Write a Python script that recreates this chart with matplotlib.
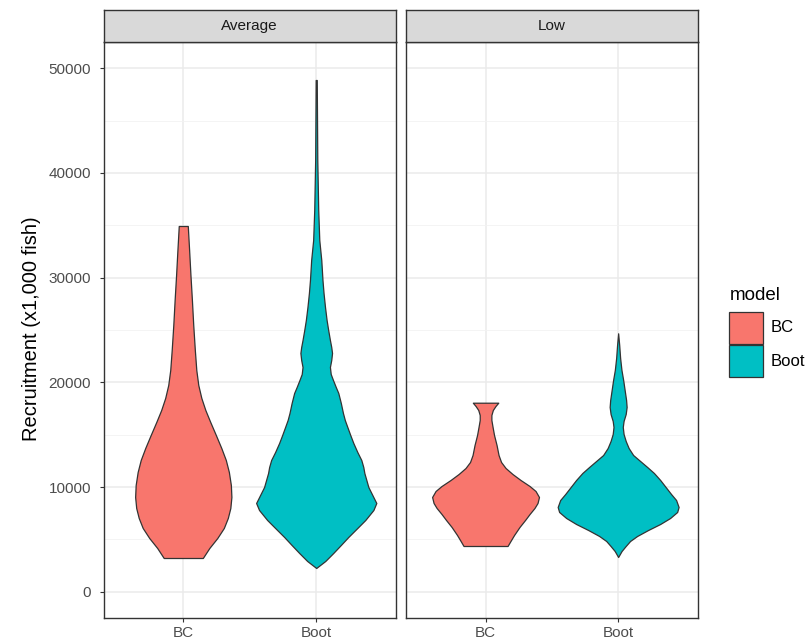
import matplotlib
matplotlib.use("Agg")
import matplotlib.pyplot as plt
from matplotlib.patches import Rectangle

plt.rcParams['font.family'] = ['Liberation Sans', 'DejaVu Sans']

# Facets, models and colours
facets = ["Average", "Low"]
models = ["BC", "Boot"]
model_colors = ["#F8766D", "#00BFC4"]
y_ticks = [0, 10000, 20000, 30000, 40000, 50000]

# Violin outlines: recruitment value (x1,000 fish) and density half-width
avg_bc_y = [3219, 4174, 5129, 6084, 7039, 7994, 9045, 10191, 11433, 12579,
            13725, 14966, 16208, 17354, 18500, 19742, 21175, 23085, 25473,
            27860, 30248, 32636, 34930]
avg_bc_w = [0.147, 0.196, 0.256, 0.305, 0.335, 0.354, 0.362, 0.358, 0.343, 0.320,
            0.286, 0.245, 0.203, 0.166, 0.136, 0.113, 0.098, 0.087, 0.075,
            0.065, 0.054, 0.044, 0.034]

avg_boot_y = [2264, 2932, 3696, 4460, 5224, 6084, 6848, 7803, 8472, 9236, 10000,
              10669, 11337, 11910, 12579, 13343, 14202, 14966, 15731, 16399,
              17068, 18023, 18978, 19551, 20219, 20793, 21461, 22130, 22798,
              23371, 24040, 24995, 25950, 27192, 28529, 29771, 31681, 33591,
              36456, 41232, 48873]
avg_boot_w = [0.0, 0.068, 0.128, 0.185, 0.241, 0.309, 0.369, 0.430, 0.452, 0.422,
              0.392, 0.377, 0.362, 0.354, 0.339, 0.309, 0.279, 0.256, 0.234,
              0.215, 0.201, 0.185, 0.166, 0.147, 0.126, 0.109, 0.103, 0.113,
              0.119, 0.113, 0.103, 0.090, 0.078, 0.066, 0.055, 0.047, 0.038,
              0.023, 0.015, 0.008, 0.004]

low_bc_y = [4365, 4842, 5415, 6180, 6848, 7421, 7994, 8472, 9045, 9618, 10095,
            10669, 11242, 11815, 12388, 13056, 14011, 14966, 15731, 16399,
            16877, 17354, 17736, 18051]
low_bc_w = [0.166, 0.188, 0.215, 0.256, 0.298, 0.332, 0.369, 0.392, 0.403, 0.377,
            0.332, 0.264, 0.203, 0.151, 0.117, 0.098, 0.083, 0.064, 0.053,
            0.044, 0.044, 0.055, 0.075, 0.096]

low_boot_y = [3314, 3887, 4365, 4842, 5320, 5893, 6466, 7039, 7612, 8090, 8758,
              9331, 10000, 10669, 11337, 11910, 12579, 13056, 13725, 14393,
              15062, 15731, 16304, 16972, 17641, 18309, 19264, 20219, 21175,
              22321, 23562, 24680]
low_boot_w = [0.0, 0.026, 0.057, 0.090, 0.143, 0.226, 0.317, 0.392, 0.445, 0.456,
              0.437, 0.399, 0.358, 0.317, 0.270, 0.219, 0.157, 0.113, 0.079,
              0.057, 0.041, 0.035, 0.041, 0.057, 0.064, 0.060, 0.049, 0.038,
              0.025, 0.015, 0.008, 0.0]

violins = {
    "Average": [(avg_bc_y, avg_bc_w), (avg_boot_y, avg_boot_w)],
    "Low": [(low_bc_y, low_bc_w), (low_boot_y, low_boot_w)],
}

W, H = 809, 641
fig = plt.figure(figsize=(W / 100, H / 100), dpi=100)


def rect(x0, y0, x1, y1):
    """Figure rectangle from pixel edges measured from the top-left corner."""
    return [x0 / W, 1 - y1 / H, (x1 - x0) / W, (y1 - y0) / H]


panel_x = [(103.5, 396.0), (406.0, 697.7)]
panel_top, panel_bottom = 41.7, 617.7
strip_top = 9.5
edge = "#333333"

for i, facet in enumerate(facets):
    x0, x1 = panel_x[i]
    ax = fig.add_axes(rect(x0, panel_top, x1, panel_bottom))
    ax.set_xlim(0.4, 2.6)
    ax.set_ylim(-2483, 52531)
    ax.set_yticks(y_ticks)
    ax.set_yticks([5000, 15000, 25000, 35000, 45000], minor=True)
    ax.set_xticks([1, 2])
    ax.set_xticklabels(models)
    ax.grid(which="major", color="#EBEBEB", linewidth=1.1)
    ax.grid(which="minor", axis="y", color="#F2F2F2", linewidth=0.6)
    ax.set_axisbelow(True)
    for s in ax.spines.values():
        s.set_color(edge)
        s.set_linewidth(1.0)
    ax.tick_params(axis="both", which="major", color=edge, length=3,
                   width=0.8, labelsize=11, labelcolor="#4D4D4D")
    ax.tick_params(axis="x", pad=3)
    ax.tick_params(axis="y", pad=6)
    ax.tick_params(which="minor", length=0)
    if i > 0:
        ax.tick_params(axis="y", left=False, labelleft=False)

    for j, (vy, vw) in enumerate(violins[facet]):
        pos = j + 1
        ax.fill_betweenx(vy, [pos - w for w in vw], [pos + w for w in vw],
                         facecolor=model_colors[j], edgecolor=edge,
                         linewidth=0.9, zorder=3)

    sax = fig.add_axes(rect(x0, strip_top, x1, panel_top))
    sax.set_facecolor("#D9D9D9")
    sax.set_xticks([])
    sax.set_yticks([])
    for s in sax.spines.values():
        s.set_color(edge)
        s.set_linewidth(1.0)
    sax.text(0.5, 0.5, facet, ha="center", va="center", fontsize=11,
             color="#1A1A1A", transform=sax.transAxes)

fig.text(32 / W, 1 - 329 / H, "Recruitment (x1,000 fish)", rotation=90,
         ha="center", va="center", fontsize=14.5, color="black")

# Legend
lax = fig.add_axes([0, 0, 1, 1], zorder=5)
lax.set_xlim(0, W)
lax.set_ylim(H, 0)
lax.axis("off")
lax.text(730, 295, "model", ha="left", va="center", fontsize=13.5, color="black")
for k, (m, c) in enumerate(zip(models, model_colors)):
    top = 311.5 + k * 33
    lax.add_patch(Rectangle((729.5, top), 33.5, 32, facecolor=c,
                            edgecolor=edge, linewidth=0.9))
    lax.text(771, top + 16.5, m, ha="left", va="center", fontsize=12,
             color="black")

fig.savefig("out.png", dpi=100)
